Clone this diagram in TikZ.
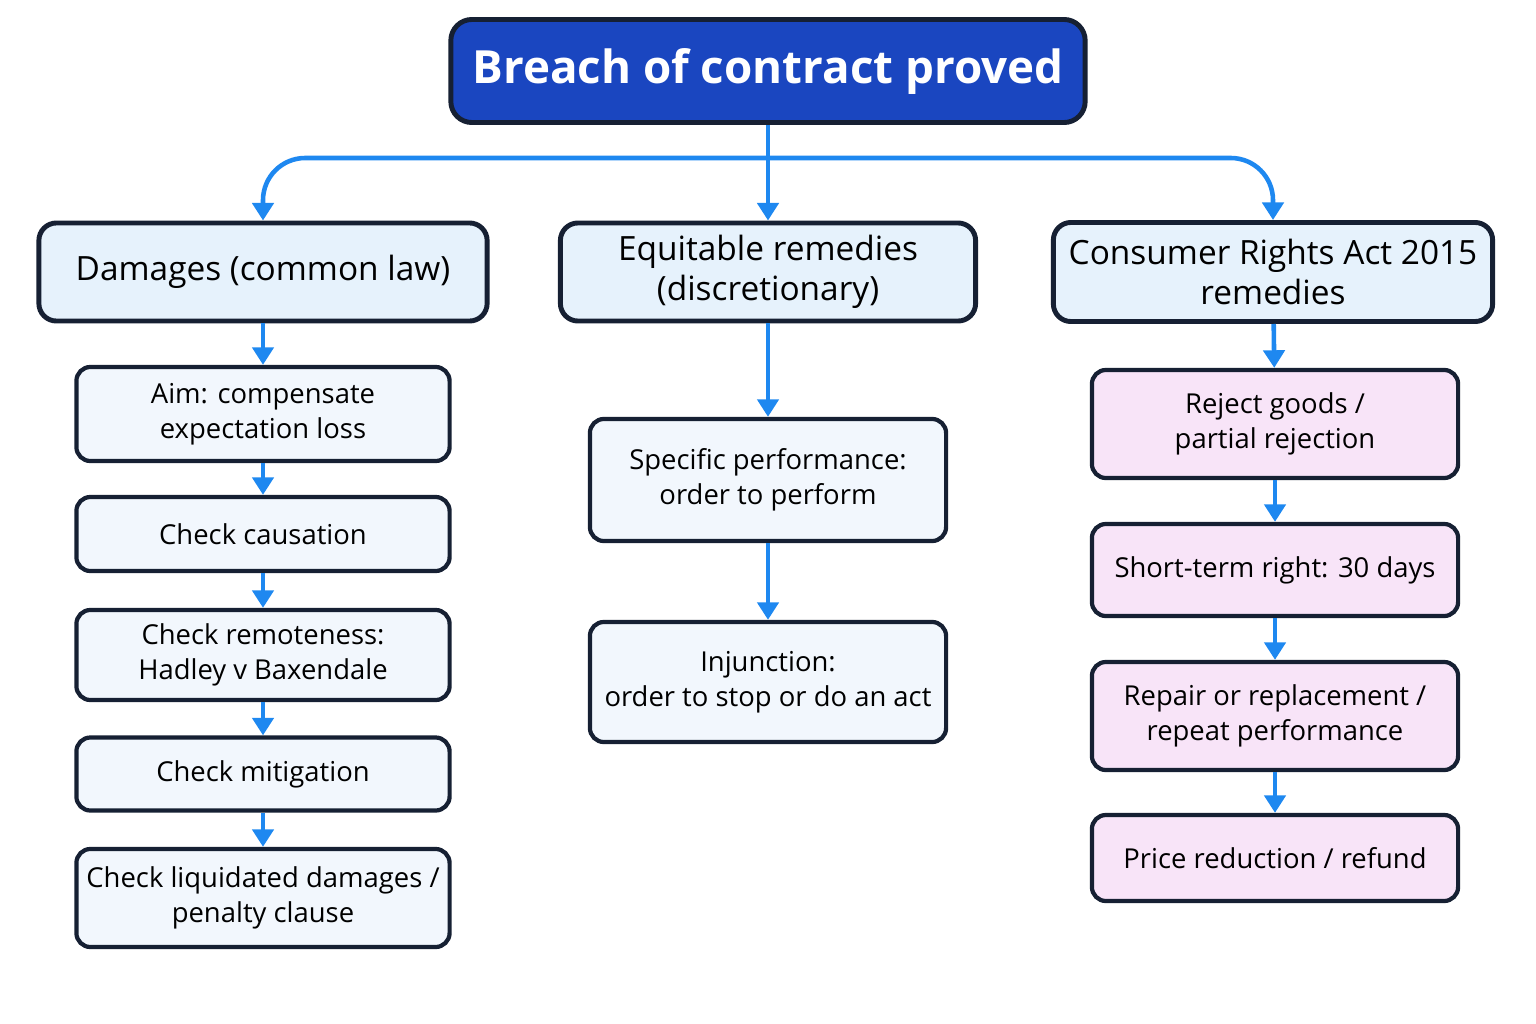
\documentclass[tikz,border=0pt]{standalone}
\usepackage{fontspec}
\setmainfont{Open Sans}
\usetikzlibrary{positioning,arrows.meta}
\definecolor{topblue}{HTML}{1A46C0}
\definecolor{linkblue}{HTML}{1E88F0}
\definecolor{boxedge}{HTML}{162033}
\definecolor{headfill}{HTML}{E6F2FC}
\definecolor{stepfill}{HTML}{F2F7FD}
\definecolor{crafill}{HTML}{F8E4F8}
\tikzset{
  headbox/.style={draw=boxedge,line width=1.4pt,rounded corners=5pt,fill=headfill,align=center,font=\fontsize{9.5}{11.5}\selectfont,inner sep=0pt},
  stepbox/.style={draw=boxedge,line width=1.2pt,rounded corners=4pt,fill=stepfill,align=center,font=\fontsize{7.8}{10}\selectfont,inner sep=0pt,minimum width=3.73cm},
  crabox/.style={stepbox,fill=crafill,minimum width=3.66cm},
  link/.style={draw=linkblue,line width=1.3pt,-{Triangle[length=5pt,width=6pt]}}
}
\begin{document}
\begin{tikzpicture}[x=0.01cm,y=-0.01cm]
\useasboundingbox (0,0) rectangle (1536,1024);
% top
\node[draw=boxedge,line width=1.4pt,rounded corners=6pt,fill=topblue,text=white,font=\fontsize{13}{15}\bfseries\selectfont,minimum width=6.34cm,minimum height=1.03cm] (breach) at (768,71) {Breach of contract proved};
% branch heads
\node[headbox,minimum width=4.48cm,minimum height=0.98cm] (dam) at (263,272) {Damages (common law)};
\node[headbox,minimum width=4.15cm,minimum height=0.98cm] (equ) at (768,272) {Equitable remedies\\(discretionary)};
\node[headbox,minimum width=4.39cm,minimum height=0.99cm] (cra) at (1273,272) {Consumer Rights Act 2015\\remedies};
% damages column
\node[stepbox,minimum height=0.94cm] (aim) at (263,414) {Aim: compensate\\expectation loss};
\node[stepbox,minimum height=0.74cm] (caus) at (263,534) {Check causation};
\node[stepbox,minimum height=0.90cm] (remote) at (263,655) {Check remoteness:\\Hadley v Baxendale};
\node[stepbox,minimum height=0.73cm] (mitig) at (263,774) {Check mitigation};
\node[stepbox,minimum height=0.98cm] (liq) at (263,898) {Check liquidated damages /\\penalty clause};
% equitable column
\node[stepbox,minimum width=3.56cm,minimum height=1.22cm] (spec) at (768,480) {Specific performance:\\order to perform};
\node[stepbox,minimum width=3.56cm,minimum height=1.20cm] (inj) at (768,682) {Injunction:\\order to stop or do an act};
% consumer column
\node[crabox,minimum height=1.08cm] (reject) at (1275,424) {Reject goods /\\partial rejection};
\node[crabox,minimum height=0.92cm] (short) at (1275,570) {Short-term right: 30 days};
\node[crabox,minimum height=1.08cm] (repair) at (1275,716) {Repair or replacement /\\repeat performance};
\node[crabox,minimum height=0.86cm] (price) at (1275,858) {Price reduction / refund};
% connectors
\coordinate (split) at (768,158);
\draw[link] (breach) -- (equ);
\draw[link,rounded corners=12pt] (split) -| (dam);
\draw[link,rounded corners=12pt] (split) -| (cra);
\foreach \a/\b in {dam/aim,aim/caus,caus/remote,remote/mitig,mitig/liq,equ/spec,spec/inj,cra/reject,reject/short,short/repair,repair/price}
  \draw[link] (\a) -- (\b);
\end{tikzpicture}
\end{document}
